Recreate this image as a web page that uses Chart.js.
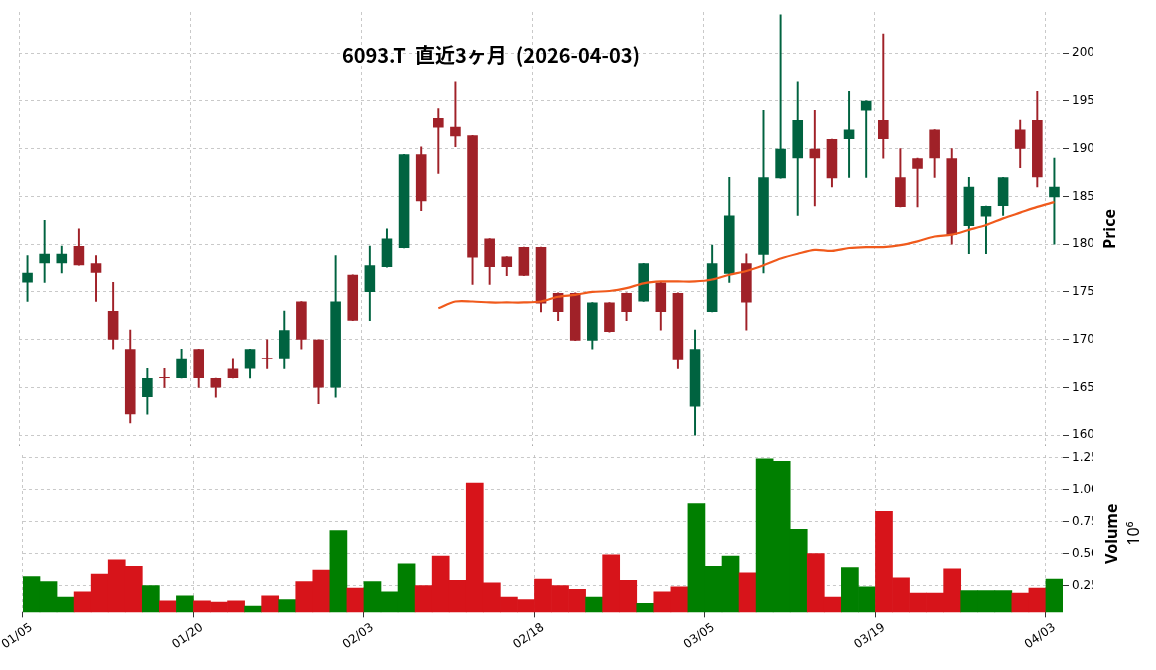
<!DOCTYPE html>
<html>
<head>
<meta charset="utf-8">
<script src="https://cdn.jsdelivr.net/npm/chart.js@4.4.1/dist/chart.umd.min.js"></script>
<style>
    body { margin: 0; background: #fff; }
    #wrap { position: relative; width: 1156px; height: 670px; }
    #priceBox { position: absolute; left: 0; top: 0; width: 1156px; height: 456px; }
    #volBox { position: absolute; left: 0; top: 443px; width: 1156px; height: 212px; }
    #title { position: absolute; left: 0; width: 982px; top: 40px; text-align: center;
        font: bold 20px "Noto Sans CJK JP", "Noto Sans", sans-serif; color: #000; z-index: 2; }
</style>
</head>
<body>
<div id="wrap">
    <div id="title">6093.T&nbsp; 直近3ヶ月&nbsp; (2026-04-03)</div>
    <div id="priceBox"><canvas id="priceChart"></canvas></div>
    <div id="volBox"><canvas id="volChart"></canvas></div>
</div>
<script>
const dates = [
    '01/05','01/06','01/07','01/08','01/09','01/13','01/14','01/15','01/16','01/19',
    '01/20','01/21','01/22','01/23','01/26','01/27','01/28','01/29','01/30','02/02',
    '02/03','02/04','02/05','02/06','02/09','02/10','02/12','02/13','02/16','02/17',
    '02/18','02/19','02/20','02/24','02/25','02/26','02/27','03/02','03/03','03/04',
    '03/05','03/06','03/09','03/10','03/11','03/12','03/13','03/16','03/17','03/18',
    '03/19','03/23','03/24','03/25','03/26','03/27','03/30','03/31','04/01','04/02',
    '04/03'
];
const opens = [
    176, 178, 178, 179.8, 178, 173, 169, 164, 166.1, 166,
    169, 166, 167, 167, 168.1, 168, 174, 170, 165, 176.8,
    175, 177.6, 179.6, 189.4, 193.2, 192.3, 191.4, 180.6, 178.7, 179.7,
    179.7, 174.9, 174.9, 169.9, 173.9, 174.9, 174, 176, 174.9, 163,
    172.9, 176.9, 178, 178.9, 186.9, 189, 190, 191, 191, 194,
    193, 187, 189, 192, 189, 181.9, 182.9, 184, 192, 193,
    184.9
];
const closes = [
    177, 179, 179, 177.8, 177, 170, 162.2, 166, 166, 168,
    166, 165, 166, 169, 168, 171, 170, 165, 174, 172,
    177.8, 180.6, 189.4, 184.5, 192.2, 191.3, 178.6, 177.6, 177.6, 176.7,
    173.8, 172.9, 169.9, 173.9, 170.8, 172.9, 178, 172.9, 167.9, 169,
    178, 183, 173.9, 187, 190, 193, 189, 186.9, 192, 195,
    191, 183.9, 187.9, 189, 181, 186, 184, 187, 190, 187,
    186
];
const highs = [
    178.8, 182.5, 179.8, 181.6, 178.8, 176, 171, 167, 167, 169,
    169, 166, 168, 169, 170, 173, 174, 170, 178.8, 176.8,
    179.8, 181.6, 189.4, 190.2, 194.2, 197, 191.4, 180.6, 178.7, 179.7,
    179.7, 174.9, 174.9, 173.9, 173.9, 174.9, 178, 176, 174.9, 171,
    179.9, 187, 179, 194, 204, 197, 194, 191, 196, 195,
    202, 190, 189, 192, 190, 187, 184, 187, 193, 196,
    189
];
const lows = [
    174, 176, 177, 177.8, 174, 169, 161.3, 162.2, 165, 166,
    165, 164, 166, 166, 167, 167, 169, 163.3, 164, 172,
    172, 177.6, 179.6, 183.5, 187.4, 190.2, 175.8, 175.8, 176.7, 176.7,
    172.9, 172, 169.9, 169, 170.8, 172, 174, 171, 167, 160,
    172.9, 176, 171, 177, 186.9, 183, 184, 186, 187, 187,
    189, 183.9, 183.9, 187, 180, 179, 179, 183, 188, 186,
    180
];
const ma25 = [
    null, null, null, null, null, null, null, null, null, null,
    null, null, null, null, null, null, null, null, null, null,
    null, null, null, null, 173.3, 174, 174, 173.9, 173.9, 173.9,
    174, 174.5, 174.7, 175, 175.1, 175.4, 175.9, 176.1, 176.1, 176.1,
    176.3, 176.8, 177.2, 177.8, 178.5, 179, 179.4, 179.3, 179.6, 179.7,
    179.7, 179.9, 180.3, 180.8, 181, 181.5, 182, 182.7, 183.3, 183.9,
    184.4
];
const volumes = [
    0.32, 0.28, 0.16, 0.20, 0.34, 0.45, 0.40, 0.25, 0.13, 0.17,
    0.13, 0.12, 0.13, 0.09, 0.17, 0.14, 0.28, 0.37, 0.68, 0.23,
    0.28, 0.20, 0.42, 0.25, 0.48, 0.29, 1.05, 0.27, 0.16, 0.14,
    0.30, 0.25, 0.22, 0.16, 0.49, 0.29, 0.11, 0.20, 0.24, 0.89,
    0.40, 0.48, 0.35, 1.24, 1.22, 0.69, 0.50, 0.16, 0.39, 0.24,
    0.83, 0.31, 0.19, 0.19, 0.38, 0.21, 0.21, 0.21, 0.19, 0.23,
    0.30
];
const priceTicks = [160, 165, 170, 175, 180, 185, 190, 195, 200];
const volTicks = [0.25, 0.5, 0.75, 1.0, 1.25];

const up = opens.map((o, i) => closes[i] >= o);
const candleColors = up.map(u => u ? '#006340' : '#a02128');
const volColors = up.map(u => u ? '#007f00' : '#d7141a');

const tickFont = { family: 'DejaVu Sans', size: 12 };
const gridOpts = {
    color: '#bbbbbb',
    lineWidth: 0.8,
    tickLength: 6,
    tickColor: '#000'
};
const xGrid = {
    color: ctx => (ctx.index % 10 === 0 ? '#bbbbbb' : 'rgba(0,0,0,0)'),
    lineWidth: 0.8,
    drawTicks: true,
    tickLength: 5,
    tickColor: ctx => (ctx.index % 10 === 0 ? '#000' : 'rgba(0,0,0,0)')
};
const fixY = axis => { axis.width = 84; };

// rotated axis titles, reading bottom to top
function sideTitle(lines) {
    return {
        id: 'sideTitle',
        afterDraw(chart) {
            const { ctx, chartArea } = chart;
            const cy = (chartArea.top + chartArea.bottom) / 2;
            ctx.save();
            ctx.fillStyle = '#000';
            ctx.textAlign = 'center';
            ctx.textBaseline = 'middle';
            lines.forEach(l => {
                ctx.save();
                ctx.translate(l.x, cy);
                ctx.rotate(-Math.PI / 2);
                ctx.font = l.font;
                ctx.fillText(l.text, 0, 0);
                ctx.restore();
            });
            ctx.restore();
        }
    };
}

new Chart(document.getElementById('priceChart'), {
    type: 'bar',
    data: {
        labels: dates,
        datasets: [{
            type: 'line',
            data: ma25,
            borderColor: '#f05a1c',
            borderWidth: 2.2,
            pointRadius: 0,
            tension: 0.3,
            order: 0
        }, {
            data: dates.map((d, i) => [opens[i], closes[i]]),
            backgroundColor: candleColors,
            barPercentage: 0.62,
            categoryPercentage: 1,
            grouped: false,
            order: 1
        }, {
            data: dates.map((d, i) => [lows[i], highs[i]]),
            backgroundColor: candleColors,
            barThickness: 1.3,
            grouped: false,
            order: 2
        }]
    },
    options: {
        responsive: true,
        maintainAspectRatio: false,
        animation: false,
        layout: { padding: { left: 19, top: 12, bottom: 0, right: 63 } },
        plugins: { legend: { display: false }, tooltip: { enabled: false } },
        scales: {
            x: {
                offset: true,
                border: { display: false, dash: [3, 3] },
                grid: { ...xGrid, tickLength: 0 },
                ticks: { display: false }
            },
            y: {
                position: 'right',
                min: 158.9,
                max: 204.3,
                border: { display: false, dash: [3, 3] },
                afterFit: axis => { axis.width = 30; },
                afterBuildTicks: axis => { axis.ticks = priceTicks.map(v => ({ value: v })); },
                grid: gridOpts,
                ticks: { font: tickFont, color: '#000' }
            }
        }
    },
    plugins: [sideTitle([{ text: 'Price', x: 1110, font: 'bold 16px "Noto Sans"' }])]
});

new Chart(document.getElementById('volChart'), {
    type: 'bar',
    data: {
        labels: dates,
        datasets: [{
            data: volumes,
            backgroundColor: volColors,
            barPercentage: 1,
            categoryPercentage: 1
        }]
    },
    options: {
        responsive: true,
        maintainAspectRatio: false,
        animation: false,
        layout: { padding: { left: 19, top: 12, right: 63 } },
        plugins: { legend: { display: false }, tooltip: { enabled: false } },
        scales: {
            x: {
                offset: true,
                border: { display: false, dash: [3, 3] },
                grid: xGrid,
                ticks: {
                    autoSkip: false,
                    maxRotation: 35,
                    minRotation: 35,
                    font: tickFont,
                    color: '#000',
                    callback: (v, i) => (i % 10 === 0 ? dates[i] : '')
                }
            },
            y: {
                position: 'right',
                min: 0.04,
                max: 1.27,
                border: { display: false, dash: [3, 3] },
                afterFit: axis => { axis.width = 30; },
                afterBuildTicks: axis => { axis.ticks = volTicks.map(v => ({ value: v })); },
                grid: gridOpts,
                ticks: { font: tickFont, color: '#000', callback: v => v.toFixed(2) }
            }
        }
    },
    plugins: [sideTitle([
        { text: 'Volume', x: 1112, font: 'bold 16px "Noto Sans"' },
        { text: '10⁶', x: 1134, font: '16px "Noto Sans"' }
    ])]
});
</script>
</body>
</html>
